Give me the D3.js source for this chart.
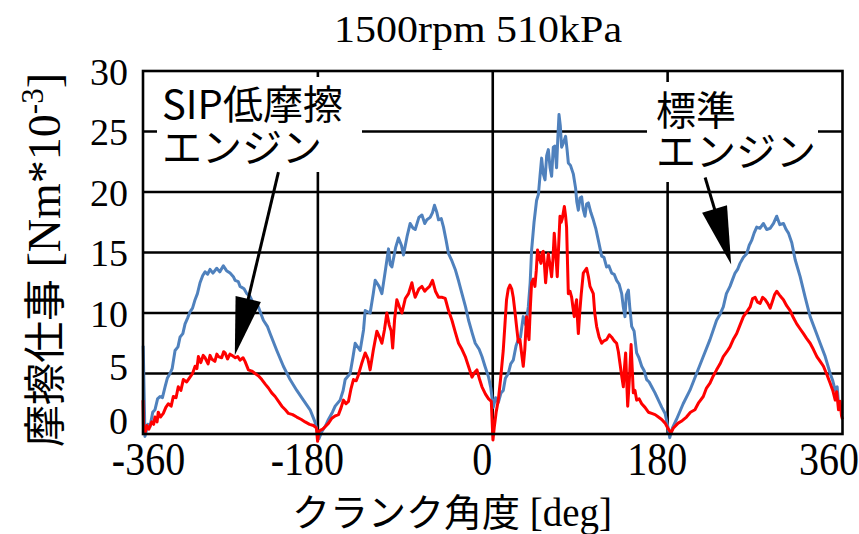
<!DOCTYPE html>
<html><head><meta charset="utf-8">
<script src="https://cdn.jsdelivr.net/npm/d3@7"></script>
<style>body{margin:0;background:#fff}svg{display:block}</style>
</head><body>
<script>
// ---------------- data ----------------
const chartTitle = "1500rpm 510kPa";
const xTicks = [-360, -180, 0, 180, 360];
const yTicks = [0, 5, 10, 15, 20, 25, 30];
const xGrid = [-180, 0, 180];
const yGrid = [5, 10, 15, 20, 25];
const yTitleJa = "摩擦仕事";
const yTitleUnit = " [Nm*10";
const yTitleExp = "-3";
const xTitleJa = "クランク角度";
const xTitleUnit = " [deg]";
const labelSip = ["SIP低摩擦", "エンジン"];
const labelStd = ["標準", "エンジン"];

// standard engine (blue): [crank angle deg, friction work Nm*10^-3]
const stdPoints = [[-359.8,7.3],[-358,-0.2],[-355,0.8],[-352.8,0.6],[-350,1.8],[-347.7,2.0],[-345,2.9],[-342.5,3.1],[-340,3.0],[-337.3,3.9],[-335,4.6],[-332.2,5.0],[-330,5.4],[-327,6.9],[-324,7.2],[-321.9,8.0],[-319,8.3],[-316.7,9.1],[-314,9.6],[-311.6,10.1],[-309,10.4],[-306.4,11.1],[-304,11.6],[-301.3,12.5],[-298.5,13.1],[-296.1,13.4],[-293.5,13.2],[-291,13.6],[-288,13.3],[-284.1,13.7],[-281,13.4],[-277.3,13.9],[-274,13.5],[-270.4,13.3],[-267,13.0],[-265.2,12.7],[-262,12.6],[-260.1,12.2],[-256,12.0],[-253.2,11.6],[-250,11.4],[-246.4,10.8],[-243,10.7],[-241.2,10.5],[-236.1,9.4],[-232,8.9],[-229.2,8.3],[-222.3,6.9],[-215.5,5.6],[-208.6,4.5],[-201.7,3.6],[-194.9,2.8],[-188,2.0],[-183,1.0],[-179,-0.4],[-176,0.2],[-172,0.7],[-169.1,1.2],[-165,1.8],[-162.2,2.3],[-157.1,2.8],[-154,3.6],[-151.9,4.5],[-146.8,5.0],[-144,6.3],[-141.6,7.5],[-136.5,6.9],[-133,8.6],[-131.3,10.2],[-126.2,10.0],[-123,11.6],[-121,12.7],[-117,12.2],[-114.1,11.6],[-110,13.8],[-107.3,15.3],[-105.5,14.0],[-103.8,13.8],[-100,15.4],[-97,16.2],[-94,15.6],[-91.9,14.8],[-88,16.4],[-85,17.4],[-82,17.0],[-79.8,16.9],[-76,17.9],[-72.9,18.1],[-70,17.4],[-67.8,17.7],[-64.4,17.9],[-62,18.3],[-60,18.9],[-57.5,18.3],[-55.8,17.7],[-53,17.8],[-50.7,17.1],[-48,16.0],[-45.5,14.9],[-42,14.3],[-38.6,13.6],[-35,12.6],[-31.7,11.6],[-28,10.5],[-24.9,9.4],[-21,8.3],[-18,7.5],[-14,7.0],[-11.1,6.4],[-8,5.6],[-4.3,4.7],[-2,3.8],[0.5,2.2],[3,3.0],[5.7,2.6],[8.5,3.4],[10.8,3.6],[13,4.6],[16,5.0],[18.5,5.8],[21.1,6.1],[24,7.3],[26.3,7.8],[28.5,8.0],[31.4,9.7],[34,9.0],[36.6,10.5],[38.5,12.5],[40,15.2],[42.5,17.5],[45.1,19.3],[47,19.8],[48.6,21.3],[50.3,22.8],[52,21.5],[53.8,21.0],[55.5,23.0],[57.2,23.5],[59,22.0],[60.6,21.3],[62.3,23.7],[64,23.8],[65.7,22.0],[67,24.5],[68.2,26.4],[69.5,25.5],[70.9,23.7],[72.5,24.0],[75,24.6],[76.5,23.5],[77.8,22.4],[80,22.2],[82.9,21.5],[85.3,20.3],[86.5,19.2],[88.1,18.5],[89.8,19.5],[91.5,19.6],[93,18.6],[94.9,18.0],[96.6,19.0],[98.4,19.1],[101,18.3],[103.5,17.7],[106,17.0],[108.7,16.0],[112.1,14.7],[114.5,14.6],[117.2,13.8],[119.5,13.9],[122.4,13.3],[125,13.2],[127.5,12.7],[130,12.4],[132.7,11.6],[134.4,10.5],[136.1,9.7],[137.5,11.5],[139.6,11.9],[141,10.5],[143,8.9],[145.5,8.5],[148.1,6.7],[150.5,6.3],[153.3,5.6],[156,5.2],[158.4,4.5],[161,4.3],[163.6,3.9],[167,3.4],[170.5,2.8],[174,2.2],[177.4,1.7],[180.5,0.5],[182.2,-0.3],[185,0.5],[189.1,1.2],[196,2.5],[202.9,3.6],[209.8,5.0],[216.7,6.4],[223.6,7.8],[230.4,9.4],[234,9.9],[237.3,10.5],[240.5,11.6],[244.2,12.2],[247,12.8],[249.4,13.3],[252,13.6],[254.5,14.1],[258,14.6],[261.4,14.9],[264,15.6],[266.5,16.0],[269,16.6],[271.7,17.1],[275,17.0],[278.6,17.4],[282,16.9],[285.5,17.0],[289,17.4],[292.3,18.0],[295.5,17.3],[299.2,17.4],[302,16.9],[304.4,16.6],[307.8,15.8],[311.3,14.4],[316.4,13.0],[321.6,11.3],[326.7,9.7],[331.9,8.6],[337,7.5],[342.2,6.4],[347.3,5.0],[350,4.4],[352.5,3.6],[354.5,3.9],[355.9,2.5],[358,2.2],[359.3,1.7]];

// SIP low-friction engine (red)
const sipPoints = [[-360,2.8],[-359.5,0.6],[-357.5,0.2],[-356.2,0.7],[-354,0.4],[-351,1.0],[-349,0.8],[-347.7,1.4],[-345.5,1.0],[-344.3,1.8],[-342,1.4],[-339.1,1.7],[-336.5,2.2],[-334,2.5],[-331,2.3],[-328.8,3.1],[-326,3.0],[-323.7,3.9],[-321,3.6],[-318.5,4.5],[-315,4.3],[-311.6,4.7],[-309,5.0],[-306.4,5.6],[-304.5,5.4],[-303,6.4],[-300.5,5.9],[-298,6.5],[-296.1,6.3],[-293,5.8],[-291,6.5],[-289.3,6.2],[-286,6.0],[-284,6.6],[-282.4,6.4],[-279,6.3],[-277,6.8],[-275.5,6.7],[-273,6.2],[-270.5,6.6],[-268.6,6.5],[-265,6.3],[-262.5,6.4],[-260.1,6.1],[-257,6.3],[-255,6.0],[-251.5,5.3],[-248,5.2],[-244.6,5.0],[-241,4.8],[-237.7,4.5],[-234,4.1],[-230.9,3.8],[-227.5,3.4],[-224,3.1],[-220.5,2.7],[-217.1,2.3],[-213.5,2.0],[-210.3,1.7],[-206,1.6],[-201.7,1.4],[-197,1.2],[-193.1,1.0],[-188.5,0.8],[-184.6,0.7],[-181.5,0.5],[-180.3,-0.6],[-179,0.2],[-177.7,0.3],[-175,0.4],[-172.5,0.6],[-169,0.9],[-165.6,1.3],[-162,1.5],[-158.8,1.6],[-156,2.2],[-153.7,2.8],[-151,2.5],[-148.5,2.7],[-146,3.7],[-143.4,4.5],[-140.5,4.4],[-138.2,4.9],[-135,5.8],[-131.3,6.7],[-128.5,6.2],[-126.2,5.3],[-123,6.9],[-119.3,8.5],[-116.5,8.0],[-114.1,7.5],[-111.5,8.6],[-109,10.0],[-106.5,9.0],[-104.5,8.5],[-103,7.1],[-101,9.5],[-98.7,11.1],[-96,10.5],[-93.5,10.0],[-90,11.2],[-86.7,11.6],[-83.2,12.5],[-81.5,11.8],[-79.8,11.3],[-76,12.0],[-72.9,12.2],[-70,11.8],[-67.8,12.0],[-65,12.2],[-62,12.7],[-59,11.8],[-55.8,11.3],[-52,11.3],[-48.9,11.2],[-45.5,10.2],[-42,9.4],[-38.5,8.4],[-35.2,7.5],[-31.7,7.0],[-28.3,6.4],[-25,5.6],[-21.4,4.7],[-18.5,5.1],[-16.3,5.3],[-13.5,4.5],[-11.1,3.9],[-7.5,3.3],[-4.3,2.9],[-1.5,2.7],[0.2,-0.5],[1.5,0.5],[3.5,1.8],[5.7,2.8],[8,4.5],[10.8,6.9],[12.5,9.0],[14.2,11.1],[16,12.0],[17.7,12.3],[19.5,12.0],[21.1,11.3],[23,10.0],[24.5,8.9],[26.3,7.6],[28,7.8],[29.5,6.8],[31.4,5.6],[33,7.0],[34.8,9.7],[36,8.5],[37.3,7.8],[38.7,10.5],[40,12.5],[41.7,12.8],[43.4,12.2],[44.8,13.5],[46.1,15.2],[47.8,14.6],[49.6,14.1],[50.8,15.0],[52,15.1],[53.2,14.0],[54.4,12.5],[55.8,13.8],[57.2,14.9],[58.9,14.0],[60.6,13.0],[62,14.5],[63.3,16.6],[64.8,15.0],[66.4,13.0],[67.8,15.5],[69.2,18.0],[70.4,17.5],[71.6,17.8],[73.7,18.8],[75,18.0],[76,17.1],[77,14.0],[77.8,11.6],[79.5,11.8],[81.2,11.3],[82.5,10.5],[83.9,9.7],[85,10.5],[86.3,11.1],[87.2,9.5],[88.1,8.3],[89.5,10.0],[91,11.5],[93.2,13.3],[96.6,13.7],[98.5,13.0],[100.1,12.2],[103.5,11.6],[105,10.0],[106.9,8.9],[109.5,8.0],[112.1,7.5],[114.5,7.7],[117.2,7.8],[120,8.2],[122.4,8.0],[125,7.7],[127.5,7.5],[129.3,6.8],[131,5.8],[132.7,4.8],[134.4,3.9],[135.6,5.5],[136.8,6.7],[137.8,4.5],[138.9,2.3],[140.6,4.5],[142.4,7.4],[143.5,5.5],[144.7,3.4],[146.4,3.6],[148.1,2.8],[150.7,2.9],[153.3,2.5],[156.7,2.2],[160.2,1.8],[163.6,1.7],[167.1,1.6],[170.5,1.4],[173.9,1.2],[177.4,0.9],[180.8,0.4],[183.5,0.1],[186,0.5],[190.8,0.9],[195,1.1],[199.4,1.4],[203.5,1.8],[208.1,2.0],[212,2.6],[216.7,3.1],[220,3.8],[223.6,4.2],[227,4.8],[230.4,5.3],[234,5.8],[237.3,6.4],[241,6.8],[244.2,7.2],[247.5,7.8],[251.1,8.3],[254.5,9.0],[258,9.7],[261.5,10.1],[264.9,10.5],[267.5,11.2],[270,11.3],[272.5,10.9],[275.2,10.8],[277.8,11.3],[280.4,11.1],[283,10.8],[285.5,10.4],[288,11.0],[290,11.5],[292.3,11.8],[295,11.5],[297,11.3],[299.2,11.1],[302.5,10.6],[306.1,10.2],[309.5,9.6],[312.9,9.1],[316.3,8.7],[319.8,8.3],[323,7.9],[326.7,7.5],[330,7.0],[333.6,6.4],[337,6.0],[340.4,5.6],[344,4.9],[347.3,4.2],[350,3.6],[352.5,2.8],[354,3.5],[355.9,2.0],[357.5,2.7],[359,1.5],[360,1.2]];

// annotation arrows in data units: [startDeg, startVal, tipDeg, tipVal]
const arrowSip = [-220.6, 21.65, -265.5, 6.5];
const arrowStd = [218.6, 21.2, 245.4, 14.0];

// ---------------- drawing ----------------
const W = 859, H = 534;
const plot = {left: 143, right: 842.5, top: 71, bottom: 434};
const serif = "'Liberation Serif','Times New Roman',serif";
const cjk = "'Noto Sans CJK JP','Noto Sans',sans-serif";
const blue = "#4f81bd", red = "#ff0000";
const fmt = d => String(d); // plain hyphen-minus, as in the reference

const svg = d3.select("body").append("svg").attr("width", W).attr("height", H)
  .style("background", "#fff");

const x = d3.scaleLinear().domain([-360, 360]).range([plot.left, plot.right]);
const y = d3.scaleLinear().domain([0, 30]).range([plot.bottom, plot.top]);

// title
svg.append("text").text(chartTitle)
  .attr("transform", `translate(478,42) scale(1,0.9)`)
  .attr("text-anchor", "middle")
  .style("font-family", serif).style("font-size", "42px").attr("fill", "#000");

// grid
const grid = svg.append("g");
grid.selectAll("line.h").data(yGrid).join("line").attr("class", "h")
  .attr("x1", plot.left).attr("x2", plot.right)
  .attr("y1", d => y(d)).attr("y2", d => y(d))
  .attr("stroke", "#000").attr("stroke-width", 2.6);
grid.selectAll("line.v").data(xGrid).join("line").attr("class", "v")
  .attr("x1", d => x(d)).attr("x2", d => x(d))
  .attr("y1", plot.top).attr("y2", plot.bottom)
  .attr("stroke", "#000").attr("stroke-width", 2.6);

// label background boxes (hide gridlines behind annotations)
svg.append("rect").attr("x", 157).attr("y", 77).attr("width", 205).attr("height", 95).attr("fill", "#fff");
svg.append("rect").attr("x", 647).attr("y", 82).attr("width", 171).attr("height", 100).attr("fill", "#fff");

// series
const line = d3.line().x(d => x(d[0])).y(d => y(d[1]));
svg.append("path").datum(stdPoints).attr("d", line)
  .attr("fill", "none").attr("stroke", blue).attr("stroke-width", 3)
  .attr("stroke-linejoin", "round");
svg.append("path").datum(sipPoints).attr("d", line)
  .attr("fill", "none").attr("stroke", red).attr("stroke-width", 3)
  .attr("stroke-linejoin", "round");

// frame
svg.append("rect").attr("x", plot.left).attr("y", plot.top)
  .attr("width", plot.right - plot.left).attr("height", plot.bottom - plot.top)
  .attr("fill", "none").attr("stroke", "#000").attr("stroke-width", 2.6);

// y tick labels (d3 axis, styled)
const yAxis = svg.append("g").attr("transform", `translate(${plot.left},0)`)
  .call(d3.axisLeft(y).tickValues(yTicks).tickSize(0).tickPadding(15).tickFormat(fmt));
yAxis.select(".domain").remove();
yAxis.selectAll("text").style("font-family", serif).style("font-size", "38px").attr("fill", "#000")
  .attr("dy", d => d === 0 ? "-0.02em" : d === 5 ? "0.17em" : "0.35em");

// x tick labels
const xAxis = svg.append("g").attr("transform", `translate(0,${plot.bottom})`)
  .call(d3.axisBottom(x).tickValues(xTicks).tickSize(0).tickPadding(0).tickFormat(fmt));
xAxis.select(".domain").remove();
xAxis.selectAll(".tick text")
  .attr("y", 0).attr("dy", null)
  .attr("transform", d => `translate(${d === -360 ? 5 : d === 360 ? -14 : -11},41) scale(1,1.18)`)
  .style("font-family", serif).style("font-size", "40px").attr("fill", "#000");

// y axis title (rotated)
const yt = svg.append("text").attr("transform", "translate(60,447) rotate(-90)")
  .attr("fill", "#000");
yt.append("tspan").text(yTitleJa).style("font-family", cjk).style("font-size", "42px");
yt.append("tspan").text(yTitleUnit).style("font-family", serif).style("font-size", "46px");
yt.append("tspan").text(yTitleExp).attr("dy", -17).style("font-family", serif).style("font-size", "31px");
yt.append("tspan").text("]").attr("dy", 17).style("font-family", serif).style("font-size", "46px");

// x axis title
const xt = svg.append("text").attr("x", 292).attr("y", 526).attr("fill", "#000");
xt.append("tspan").text(xTitleJa).style("font-family", cjk).style("font-size", "38px");
xt.append("tspan").text(xTitleUnit).style("font-family", serif).style("font-size", "39px");

// annotation texts
function label(lines, x0, y0, gap) {
  const t = svg.append("text").attr("fill", "#000").style("font-family", cjk).style("font-size", "40px");
  lines.forEach((s, i) => t.append("tspan").attr("x", x0).attr("y", y0 + i * gap).text(s));
}
label(labelSip, 162, 119, 43);
label(labelStd, 656, 125, 41);

// arrows
function arrow(a) {
  const sx = x(a[0]), sy = y(a[1]), tx = x(a[2]), ty = y(a[3]);
  const dx = tx - sx, dy = ty - sy, len = Math.hypot(dx, dy);
  const ux = dx / len, uy = dy / len, px = -uy, py = ux;
  const L = 58, hw = 13;
  const bx = tx - ux * L, by = ty - uy * L;
  svg.append("line").attr("x1", sx).attr("y1", sy).attr("x2", bx + ux * 4).attr("y2", by + uy * 4)
    .attr("stroke", "#000").attr("stroke-width", 3);
  svg.append("path")
    .attr("d", `M${tx},${ty}L${bx + px * hw},${by + py * hw}L${bx - px * hw},${by - py * hw}Z`)
    .attr("fill", "#000");
}
arrow(arrowSip);
arrow(arrowStd);
</script>
</body></html>
